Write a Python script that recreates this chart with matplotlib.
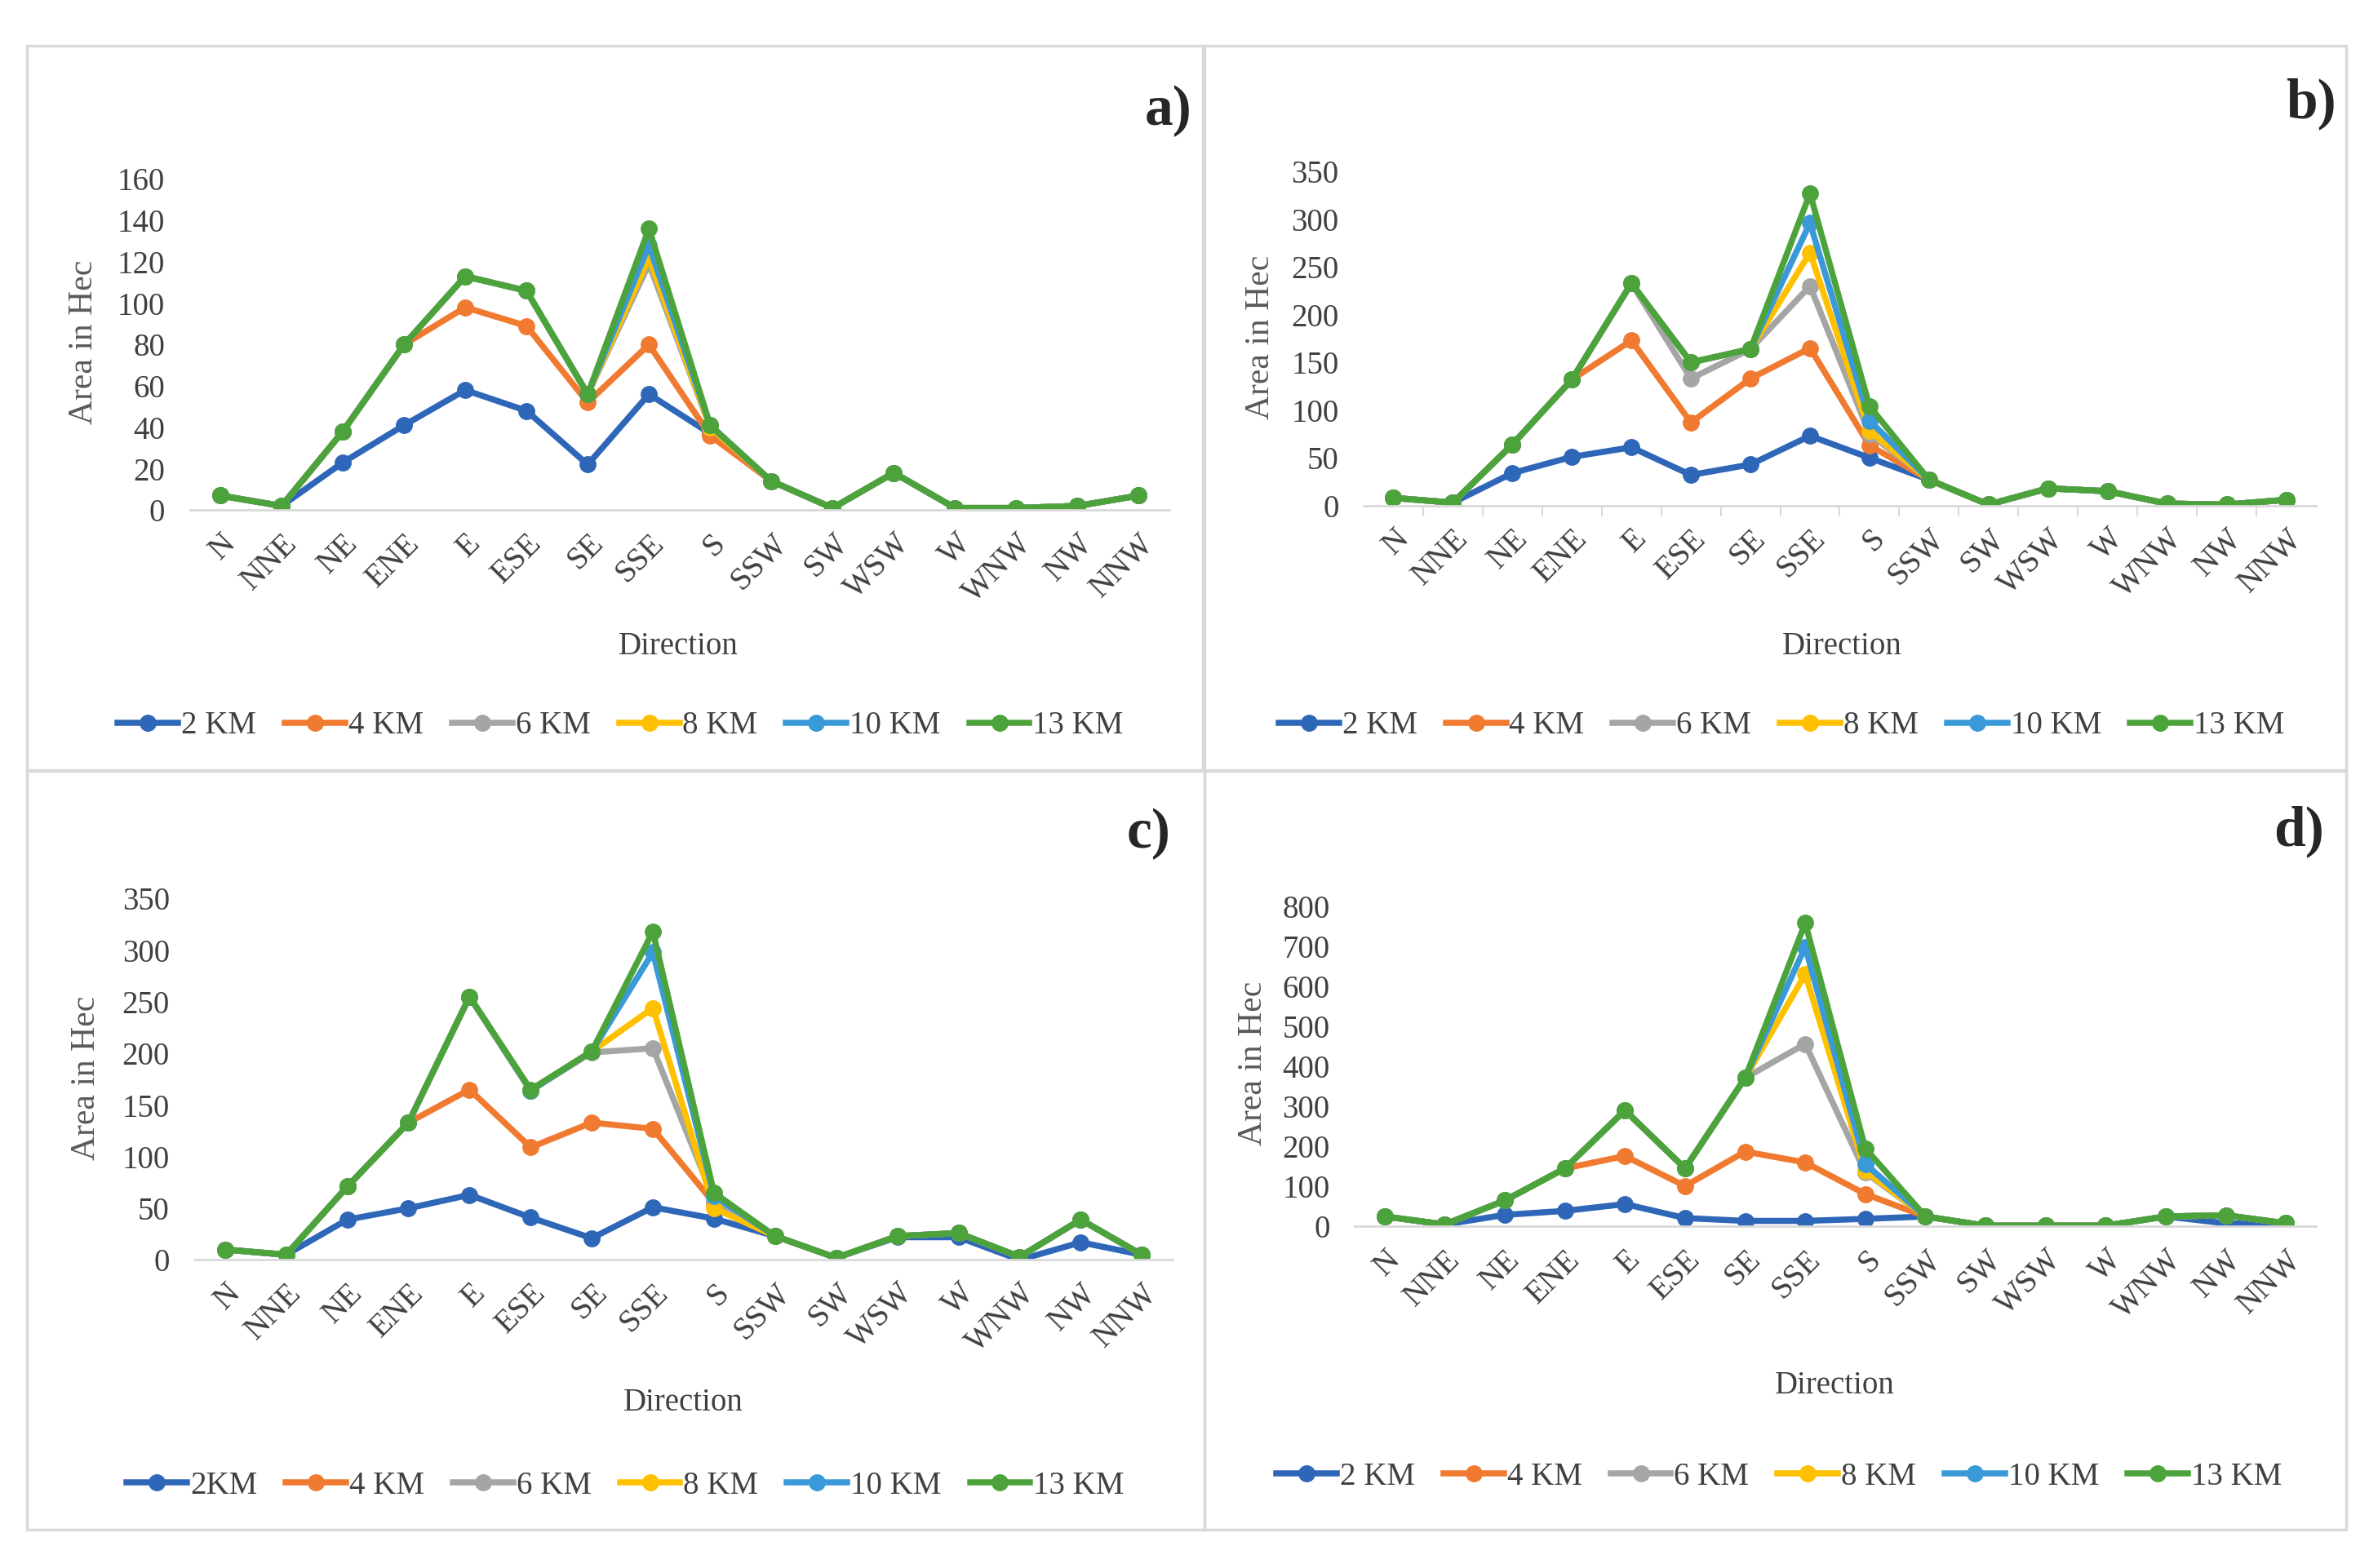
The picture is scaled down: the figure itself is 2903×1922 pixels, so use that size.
import matplotlib
matplotlib.use("Agg")
import matplotlib.pyplot as plt
from matplotlib.patches import Rectangle

plt.rcParams['font.family'] = ['Liberation Serif', 'DejaVu Serif']

directions = ['N', 'NNE', 'NE', 'ENE', 'E', 'ESE', 'SE', 'SSE', 'S', 'SSW',
              'SW', 'WSW', 'W', 'WNW', 'NW', 'NNW']
colors = ['#2E66B8', '#F07A30', '#A5A5A5', '#FFC000', '#3A9AD9', '#4DA33B']

# panel a
a_labels = ['2 KM', '4 KM', '6 KM', '8 KM', '10 KM', '13 KM']
a_2km = [7, 2, 23, 41, 58, 48, 22, 56, 37, 14, 1, 18, 1, 1, 2, 7]
a_4km = [7, 2, 38, 80, 98, 89, 52, 80, 36, 14, 1, 18, 1, 1, 2, 7]
a_6km = [7, 2, 38, 80, 113, 106, 56, 119, 40, 14, 1, 18, 1, 1, 2, 7]
a_8km = [7, 2, 38, 80, 113, 106, 56, 122, 40, 14, 1, 18, 1, 1, 2, 7]
a_10km = [7, 2, 38, 80, 113, 106, 56, 128, 41, 14, 1, 18, 1, 1, 2, 7]
a_13km = [7, 2, 38, 80, 113, 106, 56, 136, 41, 14, 1, 18, 1, 1, 2, 7]

# panel b
b_labels = ['2 KM', '4 KM', '6 KM', '8 KM', '10 KM', '13 KM']
b_2km = [8, 3, 34, 51, 61, 32, 43, 73, 50, 27, 1, 18, 15, 2, 1, 6]
b_4km = [8, 3, 64, 132, 173, 87, 133, 165, 63, 27, 1, 18, 15, 2, 1, 6]
b_6km = [8, 3, 64, 132, 233, 133, 164, 230, 75, 27, 1, 18, 15, 2, 1, 6]
b_8km = [8, 3, 64, 132, 233, 150, 164, 265, 78, 27, 1, 18, 15, 2, 1, 6]
b_10km = [8, 3, 64, 132, 233, 150, 164, 296, 89, 27, 1, 18, 15, 2, 1, 6]
b_13km = [8, 3, 64, 132, 233, 150, 164, 327, 104, 27, 1, 18, 15, 2, 1, 6]

# panel c
c_labels = ['2KM', '4 KM', '6 KM', '8 KM', '10 KM', '13 KM']
c_2km = [10, 5, 39, 50, 63, 41, 21, 51, 40, 23, 2, 22, 22, 0, 17, 5]
c_4km = [10, 5, 71, 133, 165, 109, 133, 127, 55, 23, 2, 23, 26, 3, 39, 5]
c_6km = [10, 5, 71, 133, 255, 164, 201, 205, 58, 23, 2, 23, 26, 3, 39, 5]
c_8km = [10, 5, 71, 133, 255, 164, 202, 244, 50, 23, 2, 23, 26, 3, 39, 5]
c_10km = [10, 5, 71, 133, 255, 164, 202, 298, 62, 23, 2, 23, 26, 3, 39, 5]
c_13km = [10, 5, 71, 133, 255, 165, 202, 318, 65, 23, 2, 23, 26, 3, 39, 5]

# panel d
d_labels = ['2 KM', '4 KM', '6 KM', '8 KM', '10 KM', '13 KM']
d_2km = [25, 5, 29, 39, 56, 21, 14, 14, 19, 25, 2, 2, 2, 25, 8, 5]
d_4km = [25, 5, 65, 145, 176, 101, 187, 160, 81, 25, 2, 2, 2, 25, 28, 8]
d_6km = [25, 5, 65, 145, 290, 145, 371, 456, 135, 25, 2, 2, 2, 25, 28, 8]
d_8km = [25, 5, 65, 145, 290, 145, 371, 630, 139, 25, 2, 2, 2, 25, 28, 8]
d_10km = [25, 5, 65, 145, 290, 145, 371, 698, 156, 25, 2, 2, 2, 25, 28, 8]
d_13km = [25, 5, 65, 145, 290, 145, 371, 758, 195, 25, 2, 2, 2, 25, 28, 8]

panels = [
    dict(letter='a)', labels=a_labels, series=[a_2km, a_4km, a_6km, a_8km, a_10km, a_13km],
         ymax=160, ystep=20, rect=[0.0801, 0.6747, 0.4135, 0.2111],
         box=[0.0115, 0.509, 0.4962, 0.462], letter_xy=(0.503, 0.929),
         ylab_xy=(0.0353, 0.782), dir_xy=(0.2865, 0.5876), leg_xy=(0.262, 0.537), ticks=False),
    dict(letter='b)', labels=b_labels, series=[b_2km, b_4km, b_6km, b_8km, b_10km, b_13km],
         ymax=350, ystep=50, rect=[0.5756, 0.6776, 0.402, 0.213],
         box=[0.5083, 0.509, 0.4821, 0.462], letter_xy=(0.986, 0.934),
         ylab_xy=(0.532, 0.785), dir_xy=(0.7776, 0.5876), leg_xy=(0.752, 0.537), ticks=True),
    dict(letter='c)', labels=c_labels, series=[c_2km, c_4km, c_6km, c_8km, c_10km, c_13km],
         ymax=350, ystep=50, rect=[0.0821, 0.1965, 0.4128, 0.2304],
         box=[0.0115, 0.0242, 0.4968, 0.484], letter_xy=(0.494, 0.468),
         ylab_xy=(0.0365, 0.3127), dir_xy=(0.2885, 0.1055), leg_xy=(0.264, 0.0523), ticks=False),
    dict(letter='d)', labels=d_labels, series=[d_2km, d_4km, d_6km, d_8km, d_10km, d_13km],
         ymax=800, ystep=100, rect=[0.5718, 0.2178, 0.4058, 0.2043],
         box=[0.5083, 0.0242, 0.4821, 0.484], letter_xy=(0.981, 0.470),
         ylab_xy=(0.529, 0.322), dir_xy=(0.7744, 0.1162), leg_xy=(0.751, 0.058), ticks=False),
]

fig = plt.figure(figsize=(29.03, 19.22), dpi=100)

for p in panels:
    bx = p['box']
    fig.patches.append(Rectangle((bx[0], bx[1]), bx[2], bx[3], transform=fig.transFigure,
                                 fill=False, edgecolor='#D9D9D9', linewidth=2.5))

    ax = fig.add_axes(p['rect'])
    x = list(range(len(directions)))
    for vals, col, lab in zip(p['series'], colors, p['labels']):
        ax.plot(x, vals, color=col, linewidth=5.4, marker='o', markersize=14,
                label=lab, solid_joinstyle='round')

    ax.set_xlim(-0.5, len(directions) - 0.5)
    ax.set_ylim(0, p['ymax'])
    ax.set_yticks(range(0, p['ymax'] + 1, p['ystep']))
    ax.set_xticks(x)
    ax.set_xticklabels(directions, rotation=45, ha='right', rotation_mode='anchor')
    ax.tick_params(axis='x', length=0, pad=16, labelsize=28, labelcolor='#404040')
    ax.tick_params(axis='y', length=0, pad=22, labelsize=28, labelcolor='#404040')
    if p['ticks']:
        ax.set_xticks([i + 0.5 for i in range(len(directions) - 1)], minor=True)
        ax.tick_params(axis='x', which='minor', length=9, width=1.5, color='#D9D9D9')

    for s in ['top', 'right', 'left']:
        ax.spines[s].set_visible(False)
    ax.spines['bottom'].set_color('#D9D9D9')
    ax.spines['bottom'].set_linewidth(2)
    ax.set_zorder(1)

    fig.text(p['letter_xy'][0], p['letter_xy'][1], p['letter'], fontsize=50,
             fontweight='bold', ha='right', va='center', color='#262626')
    fig.text(p['ylab_xy'][0], p['ylab_xy'][1], 'Area in Hec', rotation=90, fontsize=30,
             ha='center', va='center', color='#595959')
    fig.text(p['dir_xy'][0], p['dir_xy'][1], 'Direction', fontsize=28,
             ha='center', va='center', color='#404040')

    ax.legend(loc='center', bbox_to_anchor=p['leg_xy'], bbox_transform=fig.transFigure,
              ncol=6, frameon=False, fontsize=28, handlelength=1.9, handletextpad=0.1,
              columnspacing=0.9, numpoints=1, labelcolor='#404040')

fig.savefig('out.png', dpi=100, facecolor='white')
